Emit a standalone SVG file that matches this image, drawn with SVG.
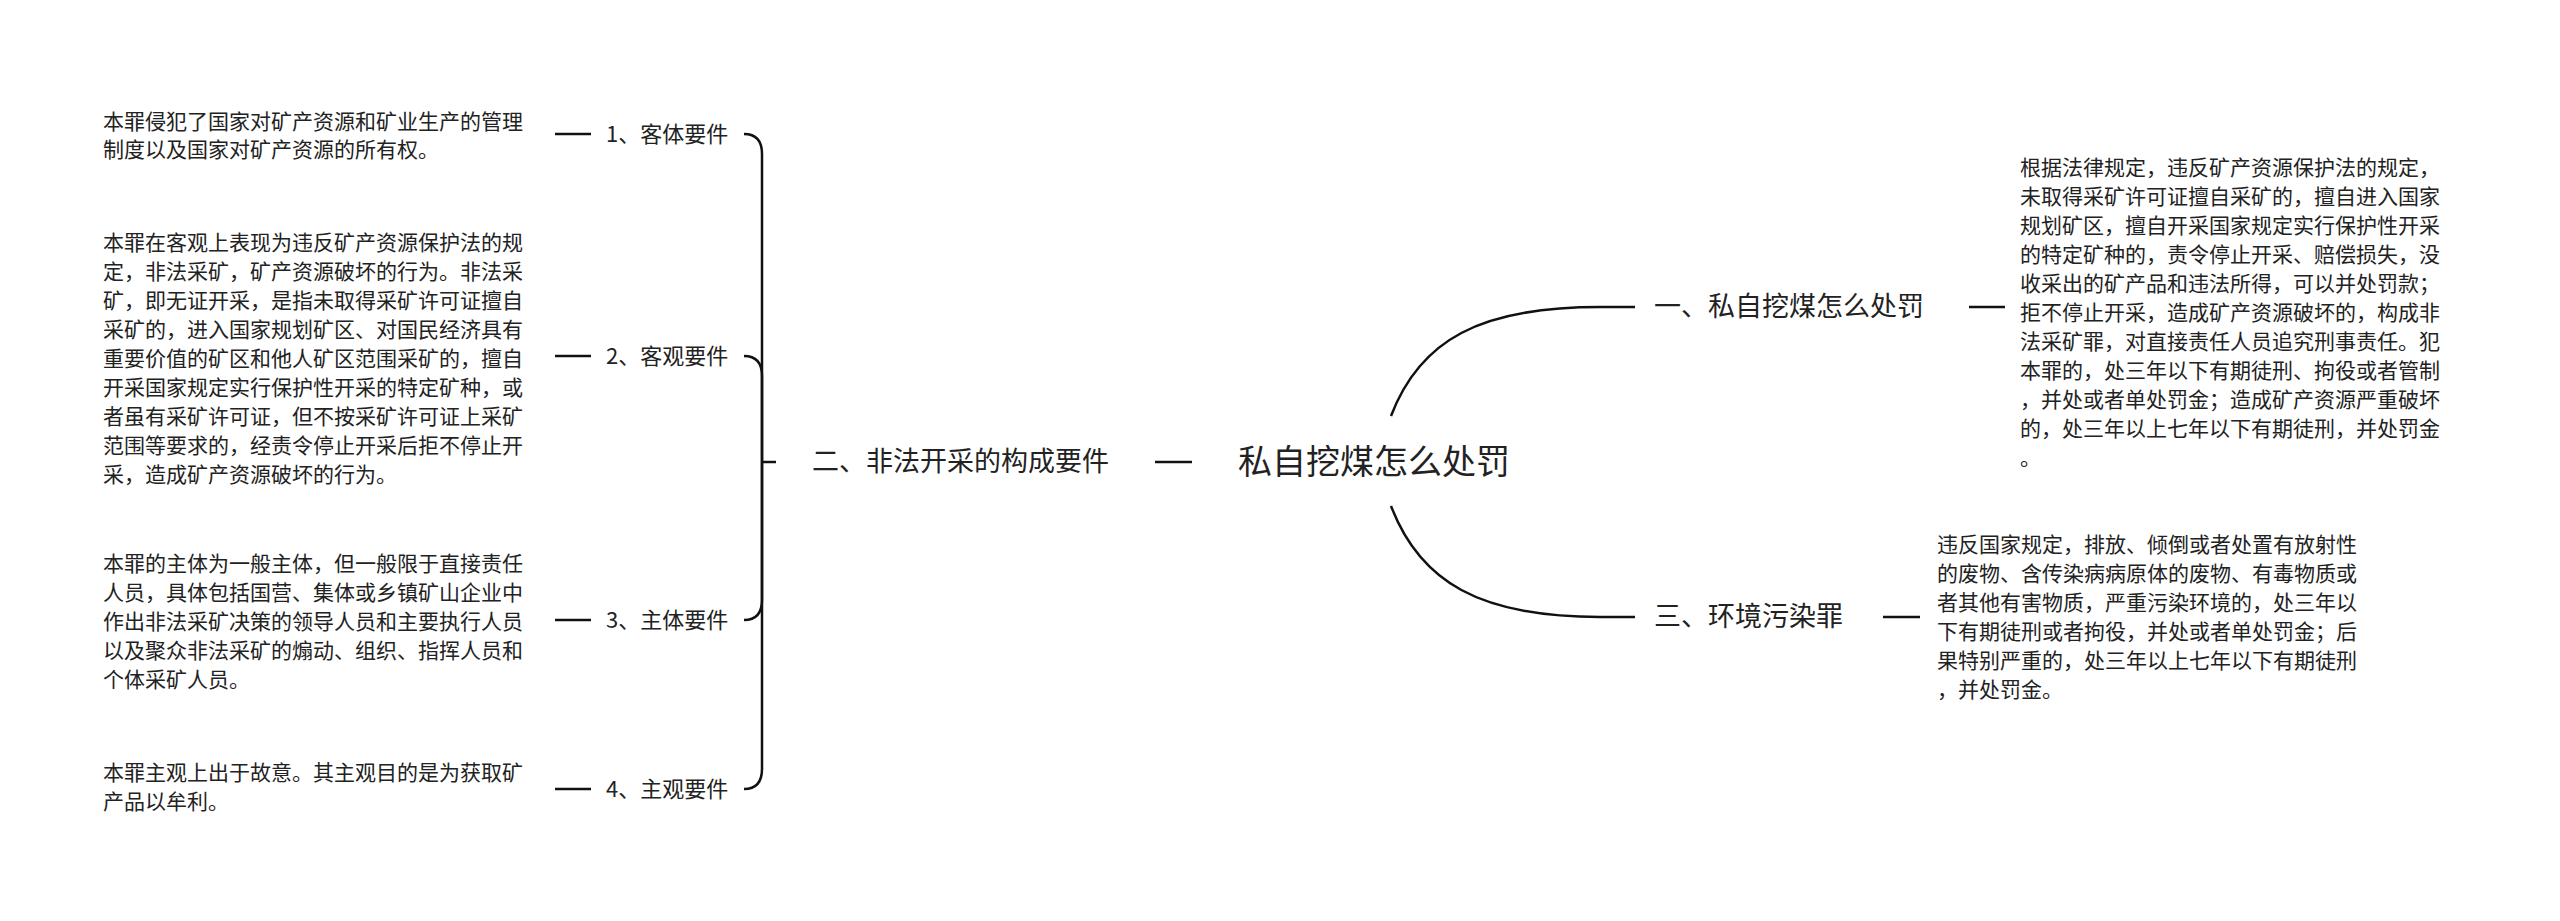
<svg xmlns="http://www.w3.org/2000/svg" width="2560" height="921" viewBox="0 0 2560 921">
<style>
text{font-family:"Noto Sans CJK SC","Liberation Sans",sans-serif;fill:#222}
.d{font-size:21px}
.l{font-size:22px}
.m{font-size:27px}
.c{font-size:34px}
.cn path,.cn line{fill:none;stroke:#111;stroke-width:2.5}
</style>
<rect width="2560" height="921" fill="#fff"/>
<g class="cn" id="connectors">
<line x1="1155" y1="462" x2="1192" y2="462"/>
<line x1="762" y1="462" x2="776" y2="462"/>
<path d="M762 462 L762 154 Q762 134 744 134"/>
<path d="M762 462 L762 376 Q762 356 744 356"/>
<path d="M762 462 L762 600 Q762 620 744 620"/>
<path d="M762 462 L762 769 Q762 789 744 789"/>
<line x1="555" y1="134" x2="591" y2="134" stroke-width="3.5"/>
<line x1="555" y1="356" x2="591" y2="356" stroke-width="3.5"/>
<line x1="555" y1="620" x2="591" y2="620" stroke-width="3.5"/>
<line x1="555" y1="789" x2="591" y2="789" stroke-width="3.5"/>
<path d="M1391 416 C1420 340 1480 307 1600 307 L1635 307"/>
<path d="M1391 506 C1420 582 1480 617 1600 617 L1635 617"/>
<line x1="1969" y1="307" x2="2005" y2="307" stroke-width="3.5"/>
<line x1="1883" y1="617" x2="1920" y2="617" stroke-width="3.5"/>
</g>
<g id="root"><text class="c" x="1238" y="474">私自挖煤怎么处罚</text></g>
<g id="n2"><text class="m" x="812" y="471">二、非法开采的构成要件</text></g>
<g id="n1"><text class="m" x="1654" y="316">一、私自挖煤怎么处罚</text></g>
<g id="n3"><text class="m" x="1654" y="626">三、环境污染罪</text></g>
<g id="k1"><text class="l" x="606" y="142">1、客体要件</text></g>
<g id="k2"><text class="l" x="606" y="364">2、客观要件</text></g>
<g id="k3"><text class="l" x="606" y="628">3、主体要件</text></g>
<g id="k4"><text class="l" x="606" y="797">4、主观要件</text></g>
<g id="t1" class="d"><text x="103" y="129">本罪侵犯了国家对矿产资源和矿业生产的管理</text><text x="103" y="157">制度以及国家对矿产资源的所有权。</text></g>
<g id="t2" class="d">
<text x="103" y="250">本罪在客观上表现为违反矿产资源保护法的规</text>
<text x="103" y="279">定，非法采矿，矿产资源破坏的行为。非法采</text>
<text x="103" y="308">矿，即无证开采，是指未取得采矿许可证擅自</text>
<text x="103" y="337">采矿的，进入国家规划矿区、对国民经济具有</text>
<text x="103" y="366">重要价值的矿区和他人矿区范围采矿的，擅自</text>
<text x="103" y="395">开采国家规定实行保护性开采的特定矿种，或</text>
<text x="103" y="424">者虽有采矿许可证，但不按采矿许可证上采矿</text>
<text x="103" y="453">范围等要求的，经责令停止开采后拒不停止开</text>
<text x="103" y="482">采，造成矿产资源破坏的行为。</text>
</g>
<g id="t3" class="d">
<text x="103" y="571">本罪的主体为一般主体，但一般限于直接责任</text>
<text x="103" y="600">人员，具体包括国营、集体或乡镇矿山企业中</text>
<text x="103" y="629">作出非法采矿决策的领导人员和主要执行人员</text>
<text x="103" y="658">以及聚众非法采矿的煽动、组织、指挥人员和</text>
<text x="103" y="687">个体采矿人员。</text>
</g>
<g id="t4" class="d"><text x="103" y="780">本罪主观上出于故意。其主观目的是为获取矿</text><text x="103" y="809">产品以牟利。</text></g>
<g id="t5" class="d">
<text x="2020" y="175">根据法律规定，违反矿产资源保护法的规定，</text>
<text x="2020" y="204">未取得采矿许可证擅自采矿的，擅自进入国家</text>
<text x="2020" y="233">规划矿区，擅自开采国家规定实行保护性开采</text>
<text x="2020" y="262">的特定矿种的，责令停止开采、赔偿损失，没</text>
<text x="2020" y="291">收采出的矿产品和违法所得，可以并处罚款；</text>
<text x="2020" y="320">拒不停止开采，造成矿产资源破坏的，构成非</text>
<text x="2020" y="349">法采矿罪，对直接责任人员追究刑事责任。犯</text>
<text x="2020" y="378">本罪的，处三年以下有期徒刑、拘役或者管制</text>
<text x="2020" y="407">，并处或者单处罚金；造成矿产资源严重破坏</text>
<text x="2020" y="436">的，处三年以上七年以下有期徒刑，并处罚金</text>
<text x="2020" y="465">。</text>
</g>
<g id="t6" class="d">
<text x="1937" y="552">违反国家规定，排放、倾倒或者处置有放射性</text>
<text x="1937" y="581">的废物、含传染病病原体的废物、有毒物质或</text>
<text x="1937" y="610">者其他有害物质，严重污染环境的，处三年以</text>
<text x="1937" y="639">下有期徒刑或者拘役，并处或者单处罚金；后</text>
<text x="1937" y="668">果特别严重的，处三年以上七年以下有期徒刑</text>
<text x="1937" y="697">，并处罚金。</text>
</g>
</svg>
